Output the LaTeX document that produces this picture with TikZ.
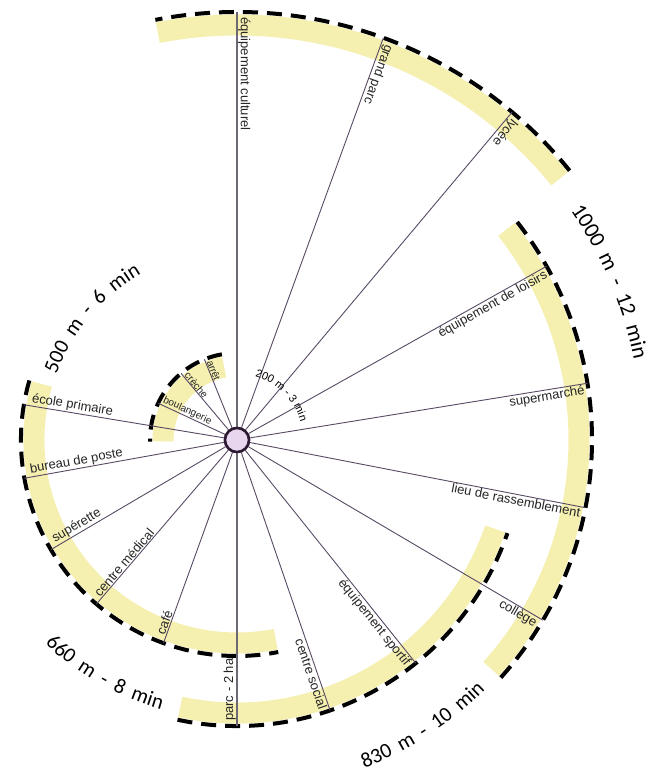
\documentclass[tikz,border=0pt]{standalone}
\usepackage{fontspec}
\setmainfont{Liberation Sans}
\newfontfamily\bigfont[WordSpace=1.9]{Carlito}
\usetikzlibrary{decorations.text}
\definecolor{band}{RGB}{245,239,176}
\definecolor{spoke}{RGB}{88,74,100}
\definecolor{axis}{RGB}{110,104,116}
\definecolor{hubfill}{RGB}{232,214,238}
\definecolor{hubline}{RGB}{45,25,50}
\newcommand\ringarc[3]{%
  \pgfmathsetmacro\rin{#1-13}%
  \draw[bandarc] (#2:\rin pt) arc[start angle=#2, end angle=#3, radius=\rin pt];
  \draw[dasharc] (#2:#1pt) arc[start angle=#2, end angle=#3, radius=#1pt];}
\begin{document}
\begin{tikzpicture}[x=1pt,y=1pt,
  bandarc/.style={band, line width=21pt},
  dasharc/.style={black, line width=4pt, dash pattern=on 15pt off 9pt},
  spokeline/.style={spoke, line width=0.9pt},
  axisline/.style={axis, line width=1.8pt},
  lbl/.style={font=\fontsize{13}{13}\selectfont, inner sep=1pt, text=black!85},
  slbl/.style={font=\fontsize{10}{10}\selectfont, inner sep=0.5pt, text=black!85},
  outlbl/.style={lbl, anchor=north east},
  inlbl/.style={lbl, anchor=south west},
  hub/.style={circle, draw=hubline, fill=hubfill, line width=2.5pt, minimum size=24pt, inner sep=0pt}
]
\useasboundingbox (-237,-338) rectangle (427,440);
\fill[white] (-237,-338) rectangle (427,440);

% rings
\ringarc{87}{100}{181}
\ringarc{216}{164}{281}
\ringarc{286}{258}{341}
\ringarc{355}{318}{398}
\ringarc{428}{39}{101}

\node[hub] (hub) at (0,0) {};

% end points
\coordinate (e1a) at (112:87pt);
\coordinate (e1b) at (130:87pt);
\coordinate (e1c) at (155:87pt);
\coordinate (e2a) at (170.6:216pt);
\coordinate (e2b) at (190.2:216pt);
\coordinate (e2c) at (210.5:216pt);
\coordinate (e2d) at (229.4:216pt);
\coordinate (e2e) at (250.1:216pt);
\coordinate (e3a) at (270:286pt);
\coordinate (e3b) at (289:286pt);
\coordinate (e3c) at (308.7:286pt);
\coordinate (e4a) at (329.5:355pt);
\coordinate (e4b) at (349:355pt);
\coordinate (e4c) at (9.2:355pt);
\coordinate (e4d) at (29.3:355pt);
\coordinate (e5a) at (50:428pt);
\coordinate (e5b) at (70:428pt);
\coordinate (e5c) at (90:428pt);

\foreach \e in {e1a,e1b,e1c,e2a,e2b,e2c,e2d,e2e,e3b,e3c,e4a,e4b,e4c,e4d,e5a,e5b}
  \draw[spokeline] (hub) -- (\e);
\draw[axisline] (hub) -- (e3a);
\draw[axisline] (hub) -- (e5c);
\node[hub] (hubtop) at (0,0) {};

% labels, ring 1
\node[slbl, anchor=south west, rotate=-68] (l1a) at (112:84pt) {arrêt};
\node[slbl, anchor=south west, rotate=-50] (l1b) at (130:84pt) {crèche};
\node[slbl, anchor=south west, rotate=-25] (l1c) at (155:84pt) {boulangerie};
% ring 2
\node[inlbl, rotate=-9.4] (l2a) at (170.6:210pt) {école primaire};
\node[inlbl, rotate=10.2] (l2b) at (190.2:210pt) {bureau de poste};
\node[inlbl, rotate=30.5] (l2c) at (210.5:210pt) {supérette};
\node[inlbl, rotate=49.4] (l2d) at (229.4:210pt) {centre médical};
\node[inlbl, rotate=70.1] (l2e) at (250.1:210pt) {café};
% ring 3
\node[inlbl, rotate=90] (l3a) at (270:282pt) {parc - 2 ha};
\node[outlbl, rotate=-71] (l3b) at (289:283pt) {centre social};
\node[outlbl, rotate=-51.3] (l3c) at (308.7:283pt) {équipement sportif};
% ring 4
\node[outlbl, rotate=-30.5] (l4a) at (329.5:352pt) {collège};
\node[outlbl, rotate=-11] (l4b) at (349:352pt) {lieu de rassemblement};
\node[outlbl, rotate=9.2] (l4c) at (9.2:352pt) {supermarché};
\node[outlbl, rotate=29.3] (l4d) at (29.3:352pt) {équipement de loisirs};
% ring 5
\node[inlbl, rotate=-130] (l5a) at (50:424pt) {lycée};
\node[inlbl, rotate=-110] (l5b) at (70:424pt) {grand parc};
\node[inlbl, rotate=-90] (l5c) at (90:424pt) {équipement culturel};

% distance labels
\path[decorate, decoration={text along path, text align=center,
  text={|\fontsize{11}{11}\selectfont|200 m - 3 min}}]
  (100:66pt) arc[start angle=100, end angle=-10, radius=66pt];
\path[decorate, decoration={text along path, text align=center,
  text={|\bigfont\fontsize{21}{21}\selectfont|500 m - 6 min}}]
  (180:192pt) arc[start angle=180, end angle=100, radius=192pt];
\path[decorate, decoration={text along path, text align=center,
  text={|\bigfont\fontsize{21}{21}\selectfont|660 m - 8 min}}]
  (200:280pt) arc[start angle=200, end angle=281, radius=280pt];
\path[decorate, decoration={text along path, text align=center,
  text={|\bigfont\fontsize{21}{21}\selectfont|830 m - 10 min}}]
  (263:352pt) arc[start angle=263, end angle=343, radius=352pt];
\path[decorate, decoration={text along path, text align=center,
  text={|\bigfont\fontsize{22}{22}\selectfont|1000 m - 12 min}}]
  (58:405pt) arc[start angle=58, end angle=-12, radius=405pt];
\end{tikzpicture}
\end{document}
